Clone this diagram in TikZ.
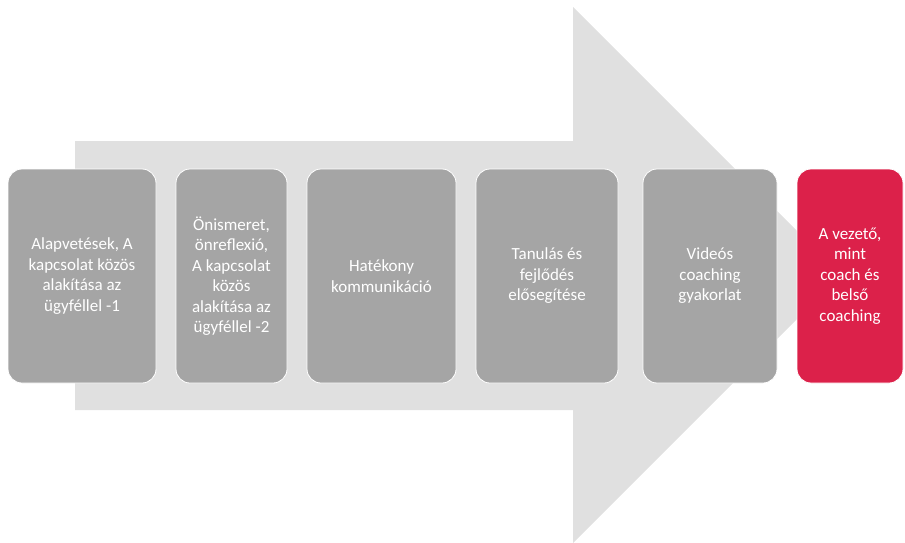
\documentclass[tikz,border=0pt]{standalone}
\usepackage{fontspec}
\setmainfont{Carlito}
\usetikzlibrary{positioning}
\definecolor{arrowgray}{HTML}{E0E0E0}
\definecolor{boxgray}{HTML}{A5A5A5}
\definecolor{boxred}{HTML}{DC214A}

\begin{document}
\begin{tikzpicture}[x=1pt,y=-1pt,node distance=20pt,
  stage/.style={draw=white,line width=0.8pt,fill=boxgray,rounded corners=14pt,
    minimum height=214pt,inner sep=2pt,outer sep=0pt,align=center,text=white,
    font=\fontsize{17}{20.5}\selectfont},
  laststage/.style={stage,fill=boxred}]
  \useasboundingbox (0,0) rectangle (905,543);
  % big background arrow
  \fill[arrowgray] (75,141) -- (573,141) -- (573,7) -- (841,275)
    -- (573,543) -- (573,410) -- (75,410) -- cycle;
  \node[stage,minimum width=148pt] (basics) at (82,276)
    {Alapvetések, A\\kapcsolat közös\\alakítása az\\ügyféllel -1};
  \node[stage,minimum width=111pt,right=of basics] (selfknow)
    {Önismeret,\\önreflexió,\\A kapcsolat\\közös\\alakítása az\\ügyféllel -2};
  \node[stage,minimum width=149pt,right=of selfknow] (comm)
    {Hatékony\\kommunikáció};
  \node[stage,minimum width=142pt,right=of comm] (learn)
    {Tanulás és\\fejlődés\\elősegítése};
  \node[stage,minimum width=134pt,right=25pt of learn] (video)
    {Videós\\coaching\\gyakorlat};
  \node[laststage,minimum width=106pt,right=of video] (leader)
    {A vezető,\\mint\\coach és\\belső\\coaching};
\end{tikzpicture}
\end{document}
